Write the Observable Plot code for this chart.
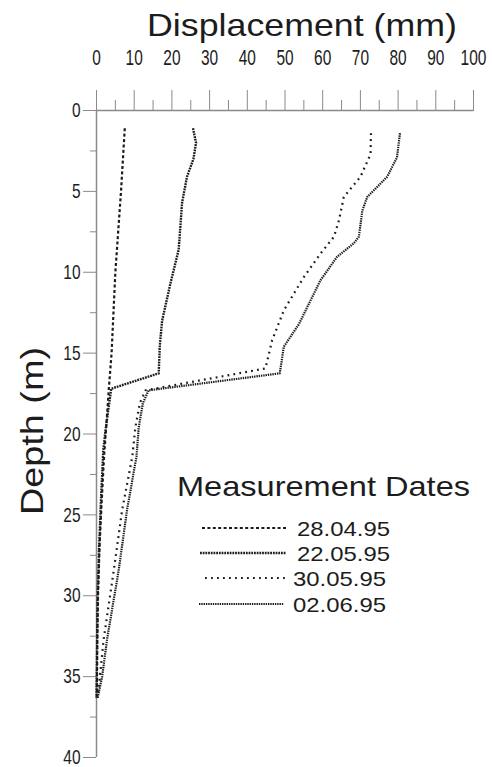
<!DOCTYPE html>
<html><head><meta charset="utf-8">
<script src="https://cdn.jsdelivr.net/npm/d3@7"></script>
<script src="https://cdn.jsdelivr.net/npm/@observablehq/plot@0.6"></script>
<style>
html,body{margin:0;padding:0;background:#fff;}
#wrap{position:relative;width:492px;height:767px;overflow:hidden;}
#wrap > svg{position:absolute;left:0;top:0;}
</style></head><body><div id="wrap"></div>
<script>
// ---- data ----
const dates = ["28.04.95", "22.05.95", "30.05.95", "02.06.95"];

const depthA = [1.1, 5, 10, 15, 17.1, 19.5, 21.4, 24.5, 27, 30, 33, 36.2];
const dispA  = [7.5, 6.5, 5.0, 4.0, 3.3, 2.6, 2.0, 1.3, 0.8, 0.4, 0.2, 0.1];

const depthB = [1.1, 2.0, 3.0, 4.1, 5.7, 7.0, 8.6, 10.7, 13.0, 14.5, 16.25, 17.2, 19.75, 21, 24, 27, 30, 33, 36.3];
const dispB  = [25.6, 26.4, 25.7, 24.0, 22.7, 22.3, 21.8, 19.6, 17.4, 16.8, 16.5, 3.9, 2.4, 1.8, 1.2, 0.7, 0.3, 0.15, 0.0];

const depthC = [1.4, 2.7, 4.1, 5.35, 6.8, 7.8, 8.85, 10.3, 12.35, 14.2, 15.95, 17.3, 18.1, 19.6, 21.4, 24.7, 28.4, 32.7, 35, 36.3];
const dispC  = [72.8, 72.7, 70.0, 65.6, 64.3, 63.0, 59.4, 55.0, 49.7, 46.6, 44.8, 13.0, 11.5, 10.3, 9.5, 6.8, 4.6, 1.9, 0.9, 0.3];

const depthD = [1.4, 2.9, 4.1, 5.35, 6.2, 7.8, 8.2, 9.05, 10.5, 13.2, 14.6, 16.25, 17.3, 18.1, 19.6, 21.4, 24.7, 28.4, 32.7, 35, 36.3];
const dispD  = [80.5, 79.7, 77.1, 71.8, 70.5, 69.6, 68.3, 63.8, 59.4, 53.7, 49.7, 48.6, 13.8, 12.3, 11.2, 10.6, 8.1, 5.9, 2.8, 1.5, 0.3];

const xTicks = [0, 10, 20, 30, 40, 50, 60, 70, 80, 90, 100];
const xMinor = [5, 15, 25, 35, 45, 55, 65, 75, 85, 95];
const yTicks = [0, 5, 10, 15, 20, 25, 30, 35, 40];
const yMinor = [2.5, 7.5, 12.5, 17.5, 22.5, 27.5, 32.5, 37.5];

const titleText = "Displacement (mm)";
const yLabelText = "Depth (m)";
const legendTitle = "Measurement Dates";

// ---- styles ----
const dashes = ["3,2.4", "1.8,0.9", "1.8,4.2", "1.4,0.9"];
const widths = [2.2, 2.4, 2.2, 2.2];
const ink = "#1c1c1c";
const axisGray = "#8a8a8a";

const series = [[depthA, dispA], [depthB, dispB], [depthC, dispC], [depthD, dispD]]
  .map(([d, v], i) => d.map((dep, j) => ({date: dates[i], depth: dep, mm: v[j]})));

const sans = "'Liberation Sans', Arial, sans-serif";

const plot = Plot.plot({
  width: 492,
  height: 767,
  marginLeft: 96,
  marginRight: 19,
  marginTop: 110,
  marginBottom: 10,
  style: {fontFamily: sans, background: "white", color: ink},
  x: {domain: [0, 100], axis: null},
  y: {domain: [0, 40], reverse: true, axis: null},
  marks: [
    Plot.axisX(xTicks, {anchor: "top", tickSize: 21, tickPadding: 25, fontSize: 22, stroke: axisGray, fill: ink, label: null}),
    Plot.axisX(xMinor, {anchor: "top", tickSize: 11, tickFormat: () => "", stroke: axisGray, label: null}),
    Plot.axisY(yTicks, {anchor: "left", tickSize: 13, tickPadding: 3, fontSize: 21, stroke: axisGray, fill: ink, label: null}),
    Plot.axisY(yMinor, {anchor: "left", tickSize: 6, tickFormat: () => "", stroke: axisGray, label: null}),
    Plot.ruleY([0], {stroke: axisGray, strokeWidth: 1.5}),
    Plot.ruleX([0], {stroke: axisGray, strokeWidth: 1.5}),
    ...series.map((s, i) => Plot.line(s, {x: "mm", y: "depth", stroke: ink, strokeWidth: widths[i], strokeDasharray: dashes[i], strokeLinecap: "butt", strokeLinejoin: "round"}))
  ]
});

// condensed look for tick labels (narrow face)
d3.select(plot).selectAll("g[aria-label$='tick label'] text").each(function() {
  const t = this.textContent;
  if (t) d3.select(this).attr("textLength", 8.6 * t.length).attr("lengthAdjust", "spacingAndGlyphs");
});

const wrap = document.getElementById("wrap");
wrap.appendChild(plot);

// ---- overlay: title, y label, legend ----
const ov = d3.create("svg").attr("width", 492).attr("height", 767)
  .style("font-family", sans).style("pointer-events", "none");

ov.append("text").attr("x", 147).attr("y", 36).attr("font-size", 32)
  .attr("textLength", 310).attr("lengthAdjust", "spacingAndGlyphs").attr("fill", ink).text(titleText);

ov.append("text").attr("transform", "translate(43,431) rotate(-90)").attr("text-anchor", "middle")
  .attr("font-size", 31).attr("textLength", 168).attr("lengthAdjust", "spacingAndGlyphs").attr("fill", ink).text(yLabelText);

ov.append("text").attr("x", 177).attr("y", 496).attr("font-size", 28)
  .attr("textLength", 293).attr("lengthAdjust", "spacingAndGlyphs").attr("fill", ink).text(legendTitle);

const rowY = [528, 553, 578, 604];
const lineX0 = [202, 200, 205, 199];
const lineX1 = [286, 286, 285, 284];
const textX = [297, 297, 293, 293];
dates.forEach((d, i) => {
  ov.append("line").attr("x1", lineX0[i]).attr("x2", lineX1[i]).attr("y1", rowY[i]).attr("y2", rowY[i])
    .attr("stroke", ink).attr("stroke-width", widths[i]).attr("stroke-dasharray", dashes[i]);
  ov.append("text").attr("x", textX[i]).attr("y", rowY[i] + 8).attr("font-size", 21)
    .attr("textLength", 93).attr("lengthAdjust", "spacingAndGlyphs").attr("fill", ink).text(d);
});

wrap.appendChild(ov.node());
</script>
</body></html>
